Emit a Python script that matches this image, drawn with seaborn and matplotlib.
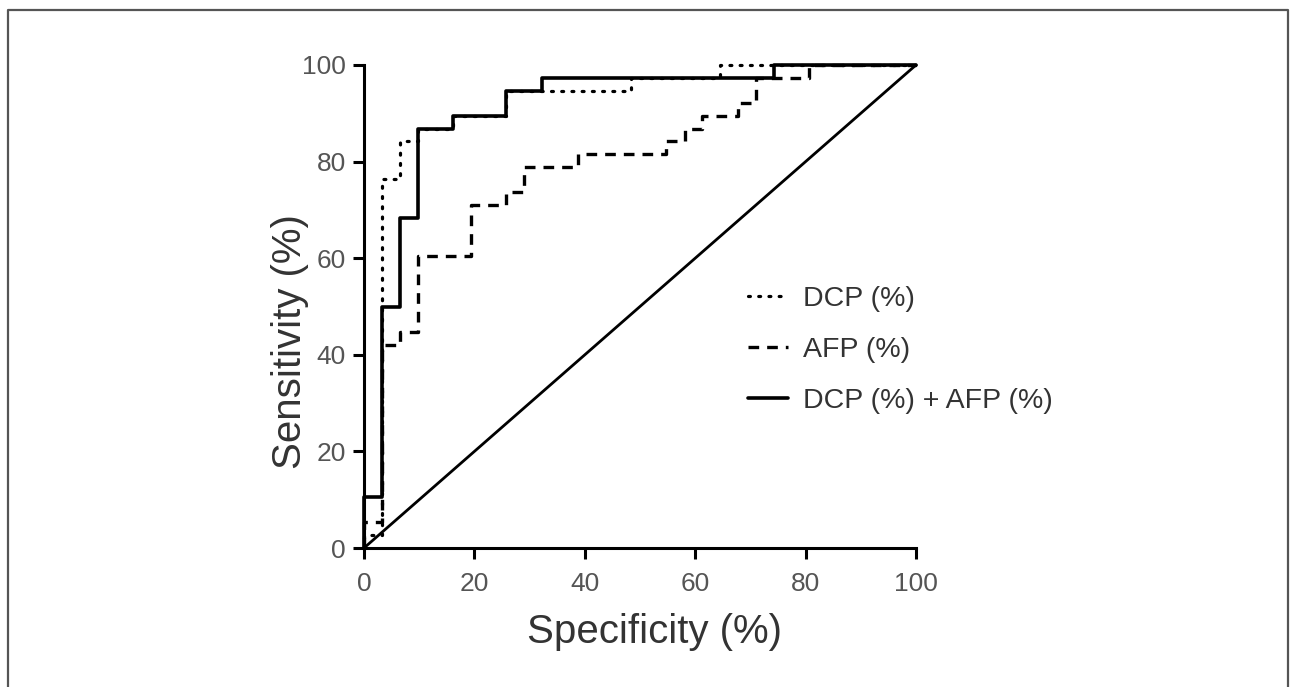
import matplotlib
matplotlib.use("Agg")
import matplotlib.pyplot as plt
import seaborn as sns
import pandas as pd

# curvas ROC (vertices de los escalones, en %)
comb_x = [0, 0, 3.2, 6.5, 9.7, 16.1, 25.8, 32.3, 74.2, 100]
comb_y = [0, 10.5, 50.0, 68.4, 86.8, 89.5, 94.7, 97.4, 100, 100]

dcp_x = [0, 0, 3.2, 6.5, 9.7, 16.1, 25.8, 48.4, 64.5, 100]
dcp_y = [0, 2.6, 76.3, 84.2, 86.8, 89.5, 94.7, 97.4, 100, 100]

afp_x = [0, 0, 3.2, 6.5, 9.7, 19.4, 25.8, 29.0, 38.7, 54.8, 58.1, 61.3, 67.7, 71.0, 80.6, 100]
afp_y = [0, 5.3, 42.1, 44.7, 60.5, 71.1, 73.7, 78.9, 81.6, 84.2, 86.8, 89.5, 92.1, 97.4, 100, 100]

diag = [0, 100]
ticks = [0, 20, 40, 60, 80, 100]
etiquetas = ['DCP (%)', 'AFP (%)', 'DCP (%) + AFP (%)']

sns.set_style('ticks')
plt.rcParams['font.family'] = ['Liberation Sans', 'DejaVu Sans']

fig = plt.figure(figsize=(12.9, 6.87), dpi=100)
ax = fig.add_axes([364 / 1290, 1 - 548 / 687, 552 / 1290, 483 / 687])

# diagonal de referencia
sns.lineplot(x=diag, y=diag, ax=ax, color='black', lw=2.0, estimator=None, sort=False, clip_on=False)

l_dcp = sns.lineplot(x=dcp_x, y=dcp_y, ax=ax, color='black', lw=2.3, estimator=None, sort=False,
                     drawstyle='steps-post', linestyle=(0, (0.6, 2.6)), dash_capstyle='round',
                     clip_on=False).lines[-1]
l_afp = sns.lineplot(x=afp_x, y=afp_y, ax=ax, color='black', lw=2.4, estimator=None, sort=False,
                     drawstyle='steps-post', linestyle=(0, (3.2, 2.4)), clip_on=False).lines[-1]
l_comb = sns.lineplot(x=comb_x, y=comb_y, ax=ax, color='black', lw=2.6, estimator=None, sort=False,
                      drawstyle='steps-post', clip_on=False).lines[-1]

ax.set_xlim(0, 100)
ax.set_ylim(0, 100)
ax.set_xticks(ticks)
ax.set_yticks(ticks)
sns.despine(ax=ax)
for s in ['left', 'bottom']:
    ax.spines[s].set_linewidth(2.2)
    ax.spines[s].set_color('black')
ax.tick_params(axis='both', length=8, width=2.2, color='black', labelsize=19,
               labelcolor='#555555')
ax.tick_params(axis='x', pad=9)
ax.tick_params(axis='y', pad=5)

ax.set_xlabel('Specificity (%)', fontsize=29, color='#333333', va='center')
ax.set_ylabel('Sensitivity (%)', fontsize=29, color='#333333', va='center')
ax.xaxis.set_label_coords(0.527, -0.174)
ax.yaxis.set_label_coords(-0.134, 0.427)

leg = ax.legend([l_dcp, l_afp, l_comb], etiquetas, loc='upper left',
                bbox_to_anchor=(748 / 1290, 1 - 286 / 687), bbox_transform=fig.transFigure,
                frameon=False, fontsize=20.5, handlelength=1.4, handletextpad=0.53,
                labelspacing=0.88, borderaxespad=0, borderpad=0)
for t in leg.get_texts():
    t.set_color('#333333')

# marco gris alrededor de la figura
fig.add_artist(plt.Line2D([8 / 1290, 8 / 1290, 1288 / 1290, 1288 / 1290],
                          [-0.05, 1 - 10 / 687, 1 - 10 / 687, -0.05],
                          transform=fig.transFigure, color='#555555', lw=1.6))

fig.savefig('out.png', dpi=100)
